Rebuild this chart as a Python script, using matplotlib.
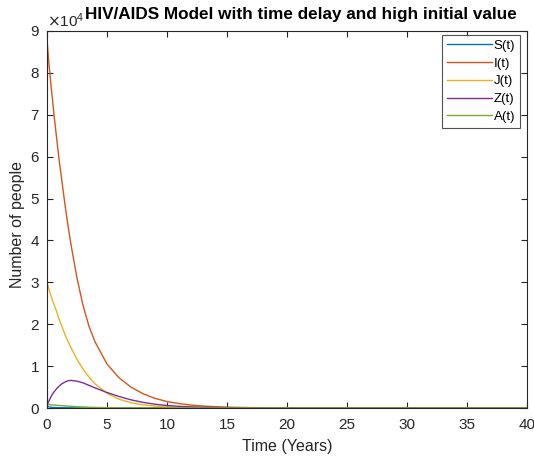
import matplotlib
matplotlib.use("Agg")
import matplotlib.pyplot as plt
from matplotlib.ticker import ScalarFormatter

plt.rcParams['font.family'] = ['Liberation Sans', 'DejaVu Sans']

# time points (years) and values
t = [0, 0.03, 0.15, 0.3, 0.45, 0.6, 0.8, 1.0, 1.25, 1.5, 1.75, 2, 2.5, 3,
     3.5, 4, 5, 6, 7, 8, 9, 10, 11, 12, 13, 14, 15, 17, 20, 25, 30, 35, 40]
S = [80000, 500, 300, 200, 150, 120, 100, 80, 65, 55, 45, 40, 30, 25,
     20, 15, 10, 8, 6, 5, 4, 3, 2, 2, 1, 1, 1, 1, 0, 0, 0, 0, 0]
I = [10000, 87000, 82500, 78000, 73800, 69500, 64500, 59500, 54000, 48500,
     43500, 39000, 31000, 24500, 19500, 15800, 10500, 7200, 5000, 3400,
     2300, 1550, 1050, 700, 470, 310, 200, 90, 25, 3, 0, 0, 0]
J = [30000, 29700, 28500, 27000, 25800, 24600, 23000, 21300, 19400, 17500,
     15900, 14400, 11600, 9300, 7400, 5800, 3500, 2100, 1250, 750, 450,
     270, 160, 95, 55, 32, 20, 6, 1, 0, 0, 0, 0]
Z = [500, 800, 1600, 2500, 3300, 3900, 4600, 5200, 5800, 6200, 6500,
     6600, 6400, 6000, 5400, 4800, 3700, 2750, 1950, 1350, 900, 600, 400,
     270, 180, 120, 80, 35, 8, 0, 0, 0, 0]
A = [900, 890, 840, 790, 740, 700, 650, 600, 550, 500, 450, 400, 310, 240,
     180, 140, 85, 55, 35, 22, 15, 10, 8, 6, 5, 4, 3, 2, 1, 0, 0, 0, 0]

labels = ['S(t)', 'I(t)', 'J(t)', 'Z(t)', 'A(t)']
colors = ['#0072BD', '#D95319', '#EDB120', '#7E2F8E', '#77AC30']

fig = plt.figure(figsize=(5.34, 4.62), dpi=100)
ax = fig.add_axes([47 / 534, 1 - 408 / 462, 480 / 534, 377 / 462])

for y, lab, c in zip([S, I, J, Z, A], labels, colors):
    ax.plot(t, y, color=c, lw=1.0, label=lab)

ax.set_xlim(0, 40)
ax.set_ylim(0, 90000)
ax.set_xticks(range(0, 41, 5))
ax.set_yticks(range(0, 90001, 10000))

fmt = ScalarFormatter(useMathText=True)
fmt.set_powerlimits((0, 0))
ax.yaxis.set_major_formatter(fmt)
ax.yaxis.get_offset_text().set_fontsize(11)
ax.yaxis.get_offset_text().set_color('#262626')

dark = '#262626'
for sp in ax.spines.values():
    sp.set_color(dark)
    sp.set_linewidth(0.8)
ax.tick_params(direction='in', length=4, width=0.8, colors=dark,
               labelsize=11, top=True, right=True)
ax.tick_params(axis='x', pad=7)
ax.tick_params(axis='y', pad=5)

ax.set_xlabel('Time (Years)', fontsize=11.5, color=dark, labelpad=5)
fig.text(18 / 534, 1 - 224 / 462, 'Number of people', rotation=90,
         ha='center', va='center', fontsize=11.5, color=dark)
fig.text(301 / 534, 1 - 14 / 462, 'HIV/AIDS Model with time delay and high initial value',
         ha='center', va='center', fontsize=12.3, fontweight='bold', color='black')

leg = ax.legend(loc='upper right', bbox_to_anchor=(520 / 534, 1 - 35 / 462),
                bbox_transform=fig.transFigure, borderaxespad=0,
                fontsize=9.5, frameon=True, fancybox=False,
                edgecolor=dark, handlelength=3.4, handletextpad=0.15,
                labelspacing=0.42, borderpad=0.35)
leg.get_frame().set_linewidth(0.8)

fig.savefig('out.png', dpi=100)
